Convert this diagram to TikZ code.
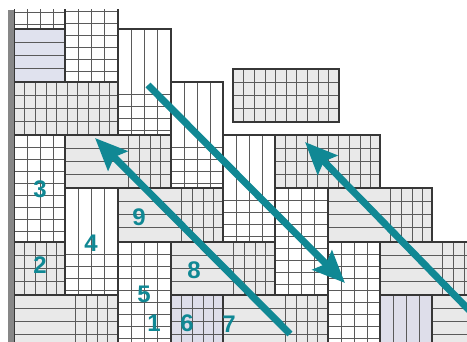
\documentclass[tikz,border=0pt]{standalone}
\usepackage{fontspec}
\newfontfamily\numfont{Liberation Sans}
\usetikzlibrary{arrows.meta}
\definecolor{tealA}{RGB}{16,136,148}
\definecolor{lgray}{RGB}{233,233,233}
\definecolor{lav}{RGB}{222,222,234}
\definecolor{blu}{RGB}{224,226,238}
\definecolor{edgec}{RGB}{55,55,55}
\definecolor{plinec}{RGB}{90,90,90}
\definecolor{barc}{RGB}{135,135,135}
\tikzset{
  pat/.style={draw=plinec, line width=0.55pt},
  brd/.style={draw=edgec, line width=1.2pt},
  arr/.style={draw=tealA, line width=7pt, -{Stealth[length=32pt,width=27pt,inset=5pt]}},
  num/.style={text=tealA, font=\numfont\bfseries\fontsize{24}{24}\selectfont, inner sep=0pt}
}
\makeatletter
\newcommand\bordlist{}
\newcommand\addbord[4]{\g@addto@macro\bordlist{\draw[brd] (#1,#2) rectangle (#3,#4);}}
\makeatother
% horizontal / vertical pattern lines inside a rectangle
\newcommand\hlns[5]{\begin{scope}\clip (#1,#2) rectangle (#3,#4);
  \foreach \nn in {1,...,12}{\draw[pat] (#1,{#2+\nn*#5}) -- (#3,{#2+\nn*#5});}\end{scope}}
\newcommand\vlns[5]{\begin{scope}\clip (#1,#2) rectangle (#3,#4);
  \foreach \nn in {1,...,12}{\draw[pat] ({#1+\nn*#5},#2) -- ({#1+\nn*#5},#4);}\end{scope}}
% brick types
\newcommand\wgrid[4]{\fill[white] (#1,#2) rectangle (#3,#4);
  \vlns{#1}{#2}{#3}{#4}{13.25}\hlns{#1}{#2}{#3}{#4}{12}\addbord{#1}{#2}{#3}{#4}}
\newcommand\ggrid[5]{\fill[#5] (#1,#2) rectangle (#3,#4);
  \vlns{#1}{#2}{#3}{#4}{10.6}\hlns{#1}{#2}{#3}{#4}{13.25}\addbord{#1}{#2}{#3}{#4}}
\newcommand\ghor[5]{\fill[#5] (#1,#2) rectangle (#3,#4);
  \hlns{#1}{#2}{#3}{#4}{13.25}\addbord{#1}{#2}{#3}{#4}}
\newcommand\vstr[5]{\fill[#5] (#1,#2) rectangle (#3,#4);
  \vlns{#1}{#2}{#3}{#4}{13.25}\addbord{#1}{#2}{#3}{#4}}
\newcommand\wideb[5]{\fill[lgray] (#1,#2) rectangle (#3,#4);
  \hlns{#1}{#2}{#3}{#4}{13.25}\vlns{#5}{#2}{#3}{#4}{10.6}\addbord{#1}{#2}{#3}{#4}}
\newcommand\tallb[5]{\fill[white] (#1,#2) rectangle (#3,#4);
  \vlns{#1}{#2}{#3}{#4}{13.25}\hlns{#1}{#5}{#3}{#4}{12}\addbord{#1}{#2}{#3}{#4}}
\begin{document}
\begin{tikzpicture}[x=1pt,y=-1pt]
\useasboundingbox (0,0) rectangle (467,342);
\fill[white] (0,0) rectangle (467,342);
\begin{scope}
\clip (14,10) rectangle (467,342);
\wgrid{14}{-24}{65}{29}
\wgrid{65}{-25}{118}{82}
\ghor{14}{29}{65}{82}{blu}
\ggrid{14}{82}{118}{135}{lgray}
\tallb{118}{29}{171}{135}{82}
\tallb{171}{82}{223}{188}{135}
\ggrid{233}{69}{339}{122}{lgray}
\wgrid{14}{135}{65}{242}
\wideb{65}{135}{171}{188}{118}
\tallb{223}{135}{275}{242}{188}
\ggrid{275}{135}{380}{188}{lgray}
\tallb{65}{188}{118}{295}{242}
\wideb{118}{188}{223}{242}{171}
\wgrid{275}{188}{328}{295}
\wideb{328}{188}{432}{242}{380}
\ggrid{14}{242}{65}{295}{lgray}
\wgrid{118}{242}{171}{348}
\wideb{171}{242}{275}{295}{223}
\wgrid{328}{242}{380}{348}
\wideb{380}{242}{485}{295}{432}
\wideb{14}{295}{118}{348}{65}
\ggrid{171}{295}{223}{348}{lav}
\wideb{223}{295}{328}{348}{275}
\vstr{380}{295}{432}{348}{lav}
\ghor{432}{295}{485}{348}{lgray}
\bordlist
\end{scope}
\fill[barc] (8,10) rectangle (14,342);
% arrows
\coordinate (a1s) at (290,334);
\coordinate (a1t) at (95,138);
\coordinate (a2s) at (148,85);
\coordinate (a2t) at (345,283);
\coordinate (a3s) at (470,311);
\coordinate (a3t) at (305,142);
\begin{scope}
\clip (0,0) rectangle (467,342);
\draw[arr] (a1s) -- (a1t);
\draw[arr] (a2s) -- (a2t);
\draw[arr] (a3s) -- (a3t);
\end{scope}
% numbers
\node[num] (n3) at (40,189) {3};
\node[num] (n2) at (40,265) {2};
\node[num] (n4) at (91,243) {4};
\node[num] (n9) at (139,217) {9};
\node[num] (n8) at (194,270) {8};
\node[num] (n5) at (144,294) {5};
\node[num] (n1) at (154,323) {1};
\node[num] (n6) at (187,323) {6};
\node[num] (n7) at (229,324) {7};
\end{tikzpicture}
\end{document}
